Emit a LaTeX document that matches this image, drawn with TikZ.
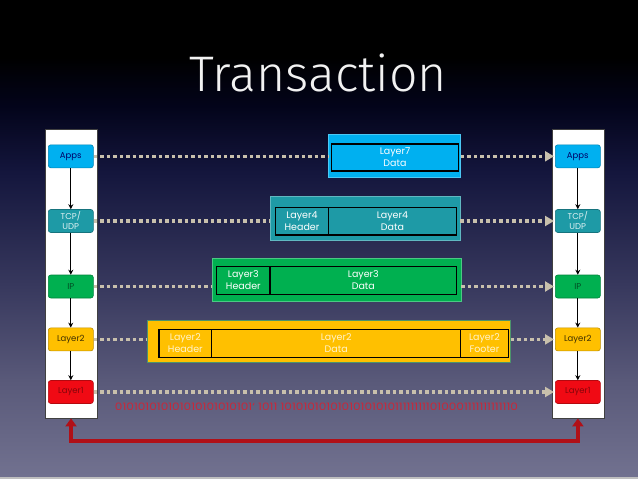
\documentclass[tikz,border=0pt]{standalone}
\usepackage{fontspec}
\setmainfont{Poppins}
\newfontfamily\titlefont{Fira Sans Light}
\usetikzlibrary{arrows.meta,calc}
\definecolor{bgA}{HTML}{727290}
\definecolor{bgB}{HTML}{5A5A7A}
\definecolor{bgC}{HTML}{38395E}
\definecolor{bgD}{HTML}{14163D}
\definecolor{bgE}{HTML}{03041A}
\definecolor{cApps}{HTML}{00B0F0}
\definecolor{cTcp}{HTML}{1E9AA6}
\definecolor{cIp}{HTML}{00B050}
\definecolor{cL2}{HTML}{FFC000}
\definecolor{cL1}{HTML}{F00A14}
\definecolor{dotc}{HTML}{C8C0AC}
\definecolor{bitred}{HTML}{C8283A}
\definecolor{arrred}{HTML}{B01018}
\pgfdeclareverticalshading{slidebg}{100bp}{color(0bp)=(bgA); color(25bp)=(bgA); color(35bp)=(bgB); color(45bp)=(bgC); color(57bp)=(bgD); color(64bp)=(bgE); color(69bp)=(black); color(100bp)=(black)}
\tikzset{
  colnode/.style={rounded corners=2.5pt, minimum width=45pt, minimum height=23pt, inner sep=0pt,
    align=center, font=\fontsize{8.5}{10}\selectfont, line width=0.6pt, fill=#1, draw=#1!75!black},
  colbg/.style={fill=white, draw=black!75, line width=0.8pt, inner sep=0pt, minimum width=52pt, minimum height=289pt},
  pkto/.style={inner sep=0pt, draw=#1!70!white, line width=0.5pt, fill=#1},
  cell/.style={draw=black, line width=1.4pt, inner sep=0pt, align=center,
    font=\fontsize{9.5}{12}\selectfont, text=white},
  dots/.style={draw=dotc, line width=3.5pt, dash pattern=on 3.5pt off 3pt},
  dotarr/.style={dots, -{Triangle[length=9pt,width=10pt,fill=dotc]}, shorten >=1pt},
  stackarr/.style={-{Stealth[length=5pt,width=5pt]}, line width=1.1pt, draw=black},
  redarr/.style={draw=arrred, line width=4pt, {Triangle[length=8pt,width=11pt,fill=arrred]}-{Triangle[length=8pt,width=11pt,fill=arrred]}},
}
\begin{document}
\begin{tikzpicture}[x=1pt,y=-1pt]
\useasboundingbox (0,0) rectangle (638,479);
\shade[shading=slidebg] (0,0) rectangle (638,479);
\fill[color=black!25!white] (0,477) rectangle (638,479);

% title
\node[font=\titlefont\fontsize{50}{50}\selectfont, text=white!95!black, anchor=base, inner sep=0pt] (title) at (318,91) {Transaction};

% columns
\node[colbg] (lcol) at (71,273.5) {};
\node[colbg] (rcol) at (577.9,273.5) {};

% left stack
\node[colnode=cApps, text=black!60!blue] (lapps) at (70.8,156.3) {Apps};
\node[colnode=cTcp, text=white!85!cTcp] (ltcp) at (70.8,221) {TCP/\\UDP};
\node[colnode=cIp, text=black!55!cIp] (lip) at (70.8,286.5) {IP};
\node[colnode=cL2, text=black!75!cL2] (ll2) at (70.8,339.4) {Layer2};
\node[colnode=cL1, text=black!45!cL1] (ll1) at (70.8,392) {Layer1};
% right stack
\node[colnode=cApps, text=black!60!blue] (rapps) at (577.8,156.3) {Apps};
\node[colnode=cTcp, text=white!85!cTcp] (rtcp) at (577.8,221) {TCP/\\UDP};
\node[colnode=cIp, text=black!55!cIp] (rip) at (577.8,286.5) {IP};
\node[colnode=cL2, text=black!75!cL2] (rl2) at (577.8,339.4) {Layer2};
\node[colnode=cL1, text=black!45!cL1] (rl1) at (577.8,392) {Layer1};

\foreach \s in {l,r}{
  \draw[stackarr] (\s apps) -- (\s tcp);
  \draw[stackarr] (\s tcp) -- (\s ip);
  \draw[stackarr] (\s ip) -- (\s l2);
  \draw[stackarr] (\s l2) -- (\s l1);
}

% packets
\node[pkto=cApps, minimum width=132.4pt, minimum height=43.4pt] (l7o) at (394.5,156) {};
\node[cell, fill=cApps, minimum width=126.6pt, minimum height=27pt] (l7d) at (395,157.5) {Layer7\\Data};

\node[pkto=cTcp, minimum width=190pt, minimum height=44pt] (l4o) at (365,218.7) {};
\node[cell, fill=cTcp, minimum width=52.6pt, minimum height=27.7pt] (l4h) at (302,221.2) {Layer4\\Header};
\node[cell, fill=cTcp, minimum width=128.4pt, minimum height=27.7pt] (l4d) at (392.5,221.2) {Layer4\\Data};

\node[pkto=cIp, minimum width=248.3pt, minimum height=42.7pt] (l3o) at (336.85,279.65) {};
\node[cell, fill=cIp, minimum width=53.3pt, minimum height=27.6pt] (l3h) at (243.35,280.5) {Layer3\\Header};
\node[cell, fill=cIp, minimum width=186.7pt, minimum height=27.6pt] (l3d) at (363.35,280.5) {Layer3\\Data};

\node[pkto=cL2, draw=cIp!40!gray, minimum width=363.4pt, minimum height=42.7pt] (l2o) at (329,341.35) {};
\node[cell, fill=cL2, text=white!80!cL2, minimum width=52.7pt, minimum height=28.4pt] (l2h) at (185.35,343.5) {Layer2\\Header};
\node[cell, fill=cL2, text=white!80!cL2, minimum width=249pt, minimum height=28.4pt] (l2d) at (336.2,343.5) {Layer2\\Data};
\node[cell, fill=cL2, text=white!80!cL2, minimum width=47.6pt, minimum height=28.4pt] (l2f) at (484.5,343.5) {Layer2\\Footer};

% dotted connectors
\draw[dots] (lapps.east) -- (lapps.east -| l7o.west);
\draw[dotarr] (l7o.east |- rapps.west) -- (rapps.west);
\draw[dots] (ltcp.east) -- (ltcp.east -| l4o.west);
\draw[dotarr] (l4o.east |- rtcp.west) -- (rtcp.west);
\draw[dots] (lip.east) -- (lip.east -| l3o.west);
\draw[dotarr] (l3o.east |- rip.west) -- (rip.west);
\draw[dots] (ll2.east) -- (ll2.east -| l2o.west);
\draw[dotarr] (l2o.east |- rl2.west) -- (rl2.west);
\draw[dotarr] (ll1.east) -- (rl1.west);

% bits
\node[text=bitred, inner sep=0pt] (bits) at (316.5,406.7)
  {\resizebox{403pt}{7.5pt}{010101010101010101010101` 1011 10101010101010101010111111111010001111111111110}};

% red link
\coordinate (rb) at (324,440.7);
\draw[redarr] (lcol.south) |- (rb) -| (rcol.south);
\end{tikzpicture}
\end{document}
